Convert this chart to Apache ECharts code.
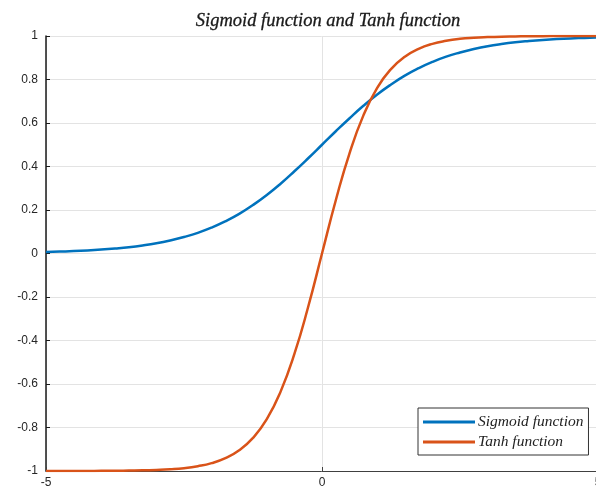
<!DOCTYPE html>
<html>
<head>
<meta charset="utf-8">
<script src="https://cdn.jsdelivr.net/npm/echarts@6/dist/echarts.min.js"></script>
<style>
  html, body { margin: 0; padding: 0; background: #fff; }
  #chart { width: 596px; height: 495px; }
</style>
</head>
<body>
<div id="chart"></div>
<script>
// values, x every 0.25
var xs = [-5, -4.75, -4.5, -4.25, -4, -3.75, -3.5, -3.25, -3, -2.75, -2.5, -2.25, -2, -1.75, -1.5, -1.25, -1, -0.75, -0.5, -0.25,
          0, 0.25, 0.5, 0.75, 1, 1.25, 1.5, 1.75, 2, 2.25, 2.5, 2.75, 3, 3.25, 3.5, 3.75, 4, 4.25, 4.5, 4.75, 5];
var sigmoidVals = [0.007, 0.009, 0.011, 0.014, 0.018, 0.023, 0.029, 0.037, 0.047, 0.060, 0.076, 0.095, 0.119, 0.148, 0.182, 0.223, 0.269, 0.321, 0.378, 0.438,
                   0.500, 0.562, 0.622, 0.679, 0.731, 0.777, 0.818, 0.852, 0.881, 0.905, 0.924, 0.940, 0.953, 0.963, 0.971, 0.977, 0.982, 0.986, 0.989, 0.991, 0.993];
var tanhVals = [-1.000, -1.000, -1.000, -1.000, -0.999, -0.999, -0.998, -0.997, -0.995, -0.992, -0.987, -0.978, -0.964, -0.941, -0.905, -0.848, -0.762, -0.635, -0.462, -0.245,
                0.000, 0.245, 0.462, 0.635, 0.762, 0.848, 0.905, 0.941, 0.964, 0.978, 0.987, 0.992, 0.995, 0.997, 0.998, 0.999, 0.999, 1.000, 1.000, 1.000, 1.000];
var seriesNames = ['Sigmoid function', 'Tanh function'];

function pairs(ys) {
    var out = [];
    for (var i = 0; i < xs.length; i++) out.push([xs[i], ys[i]]);
    return out;
}

var chart = echarts.init(document.getElementById('chart'));
var axisText = { color: '#262626', fontSize: 12, fontFamily: 'Liberation Sans' };

var option = {
    animation: false,
    color: ['#0072BD', '#D95319'],
    title: {
        text: 'Sigmoid function and Tanh function',
        left: 323,
        textAlign: 'center',
        top: 7,
        textStyle: {
            fontFamily: 'Liberation Serif',
            fontStyle: 'italic',
            fontWeight: 'normal',
            fontSize: 18.5,
            color: '#1a1a1a',
            textBorderColor: '#1a1a1a',
            textBorderWidth: 0.3
        }
    },
    grid: { left: 46, top: 36, right: -2, bottom: 24, outerBoundsMode: 'none' },
    legend: {
        left: 418,
        top: 408,
        orient: 'vertical',
        backgroundColor: '#fff',
        borderColor: '#333',
        borderWidth: 1,
        padding: [6, 5, 5, 5],
        itemGap: 4,
        itemWidth: 52,
        itemHeight: 3,
        icon: 'rect',
        textStyle: {
            fontFamily: 'Liberation Serif',
            fontStyle: 'italic',
            fontSize: 15.5,
            color: '#222',
            padding: [0, 0, 0, -2]
        },
        data: seriesNames
    },
    xAxis: {
        type: 'value',
        min: -5,
        max: 5,
        interval: 5,
        axisLine: { show: true, onZero: false, lineStyle: { color: '#404040', width: 1 } },
        axisTick: { show: true, inside: true, length: 4, lineStyle: { color: '#404040' } },
        axisLabel: Object.assign({ margin: 6 }, axisText),
        splitLine: { show: true, lineStyle: { color: '#e3e3e3' } }
    },
    yAxis: {
        type: 'value',
        min: -1,
        max: 1,
        interval: 0.2,
        axisLine: { show: true, onZero: false, lineStyle: { color: '#1a1a1a', width: 1.5 } },
        axisTick: { show: true, inside: true, length: 4, lineStyle: { color: '#1a1a1a' } },
        axisLabel: Object.assign({ margin: 8 }, axisText),
        splitLine: { show: true, lineStyle: { color: '#e3e3e3' } }
    },
    series: [
        {
            name: seriesNames[0],
            type: 'line',
            smooth: true,
            showSymbol: false,
            lineStyle: { width: 2.5 },
            data: pairs(sigmoidVals)
        },
        {
            name: seriesNames[1],
            type: 'line',
            smooth: true,
            showSymbol: false,
            lineStyle: { width: 2.5 },
            data: pairs(tanhVals)
        }
    ]
};
chart.setOption(option);
</script>
</body>
</html>
